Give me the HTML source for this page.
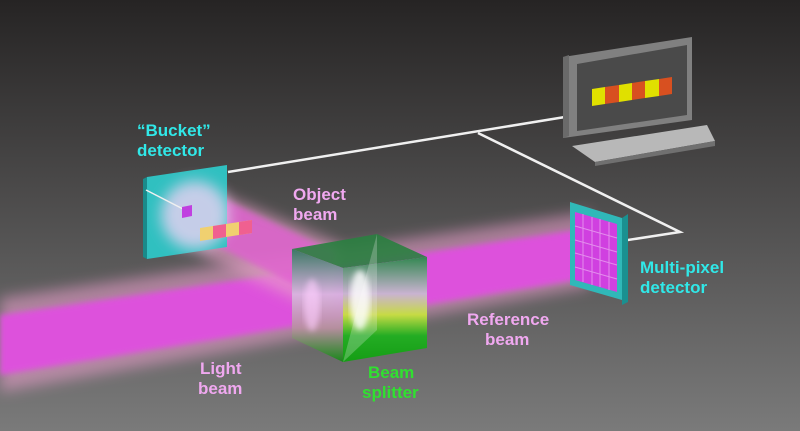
<!DOCTYPE html>
<html><head><meta charset="utf-8"><style>
html,body{margin:0;padding:0;width:800px;height:431px;overflow:hidden}
svg{display:block}
text{font-family:"Liberation Sans",sans-serif;font-weight:bold;font-size:17px}
</style></head><body>
<svg width="800" height="431" viewBox="0 0 800 431" xmlns="http://www.w3.org/2000/svg">
<defs>
<linearGradient id="bg" x1="0" y1="0" x2="0" y2="1">
<stop offset="0" stop-color="#262424"/><stop offset="1" stop-color="#7a7a7a"/></linearGradient>
<filter id="b6" x="-20%" y="-50%" width="140%" height="200%"><feGaussianBlur stdDeviation="7"/></filter>
<filter id="b3"><feGaussianBlur stdDeviation="3"/></filter>
<linearGradient id="cr" x1="0" y1="0" x2="0" y2="1">
<stop offset="0" stop-color="#2a8a4a"/><stop offset="0.35" stop-color="#c8b8d0"/><stop offset="0.55" stop-color="#c8e040"/><stop offset="0.75" stop-color="#20b020"/><stop offset="1" stop-color="#10a010"/></linearGradient>
<linearGradient id="cf" x1="0" y1="0" x2="0" y2="1">
<stop offset="0" stop-color="#2a7a5a"/><stop offset="0.4" stop-color="#d8b8e0"/><stop offset="0.7" stop-color="#b890a0"/><stop offset="1" stop-color="#108a10"/></linearGradient>
</defs>
<rect width="800" height="431" fill="url(#bg)"/>
<!-- wires -->
<polyline points="228,172 565,117" fill="none" stroke="#f0f0f0" stroke-width="2.5"/>
<polyline points="478,133 680,232 615,242" fill="none" stroke="#f0f0f0" stroke-width="2.5"/>
<!-- monitor -->
<polygon points="563,57 692,37 692,120 563,138" fill="#808080"/>
<polygon points="563,57 569,55 569,136 563,138" fill="#6a6a6a"/>
<polygon points="577,64 687,45 687,115 577,131" fill="#4a4a4a"/>
<polygon points="592,89 605,87 605,104 592,106" fill="#e0e000"/>
<polygon points="605,87 619,85 619,102 605,104" fill="#d85020"/>
<polygon points="619,85 632,83 632,100 619,102" fill="#e0e000"/>
<polygon points="632,83 645,81 645,98 632,100" fill="#d85020"/>
<polygon points="645,81 659,79 659,96 645,98" fill="#e0e000"/>
<polygon points="659,79 672,77 672,94 659,96" fill="#d85020"/>
<polygon points="572,146 707,125 715,141 595,162" fill="#b8b8b8"/>
<polygon points="595,162 715,141 715,146 595,166" fill="#707070"/>
<!-- main beam -->
<polygon points="0,298 590,212 590,287 0,392" fill="#f0a0d0" opacity="0.55" filter="url(#b6)"/>
<polygon points="0,315 590,228 590,278 0,375" fill="#e050e0" opacity="0.95" filter="url(#b3)"/>
<!-- object beam -->
<polygon points="200,185 340,245 330,315 200,255" fill="#e8a0c8" opacity="0.65" filter="url(#b6)"/>
<polygon points="215,195 335,252 325,300 215,245" fill="#e060d0" opacity="0.8" filter="url(#b3)"/>
<!-- bucket detector -->
<polygon points="143,179 147,177 147,259 143,257" fill="#1a8a8a"/>
<polygon points="147,177 227,165 227,247 147,259" fill="#30c0c0"/>
<ellipse cx="195" cy="215" rx="34" ry="34" fill="#e0d0f0" opacity="0.85" filter="url(#b6)"/>
<line x1="146" y1="190" x2="185" y2="210" stroke="#f0f0f0" stroke-width="1.5"/>
<polygon points="182,207 192,205 192,216 182,218" fill="#c040e0"/>
<polygon points="200,228 252,220 252,233 200,241" fill="#f0d070"/>
<polygon points="213,226 226,224 226,237 213,239" fill="#f06090"/>
<polygon points="239,222 252,220 252,233 239,235" fill="#f06090"/>
<!-- cube -->
<polygon points="292,249 377,234 427,257 343,268" fill="#2a8040" opacity="0.9"/>
<polygon points="292,249 343,268 343,362 292,338" fill="url(#cf)" opacity="0.9"/>
<polygon points="343,268 427,257 427,348 343,362" fill="url(#cr)" opacity="0.95"/>
<polygon points="343,362 377,234 377,330" fill="#f0f0f0" opacity="0.25"/>
<ellipse cx="360" cy="300" rx="10" ry="30" fill="#ffffff" opacity="0.8" filter="url(#b3)"/>
<ellipse cx="312" cy="305" rx="8" ry="26" fill="#ffd0ff" opacity="0.6" filter="url(#b3)"/>
<!-- multi pixel detector -->
<polygon points="570,202 622,218 622,300 570,285" fill="#30b8b8"/>
<polygon points="622,218 628,214 628,302 622,305" fill="#1a9090"/>
<polygon points="575,212 617,224 617,292 575,280" fill="#d040e0"/>
<g stroke="#e8a0f0" stroke-width="1" opacity="0.8">
<line x1="583" y1="214" x2="583" y2="282"/><line x1="592" y1="217" x2="592" y2="285"/><line x1="600" y1="219" x2="600" y2="287"/><line x1="609" y1="222" x2="609" y2="290"/>
<line x1="575" y1="226" x2="617" y2="238"/><line x1="575" y1="240" x2="617" y2="252"/><line x1="575" y1="253" x2="617" y2="265"/><line x1="575" y1="267" x2="617" y2="279"/>
</g>
<!-- labels -->
<g fill="#30e8e8"><text x="137" y="136">“Bucket”</text><text x="137" y="156">detector</text>
<text x="640" y="273">Multi-pixel</text><text x="640" y="293">detector</text></g>
<g fill="#f0a8f0"><text x="293" y="200">Object</text><text x="293" y="220">beam</text>
<text x="467" y="325">Reference</text><text x="485" y="345">beam</text>
<text x="200" y="374">Light</text><text x="198" y="394">beam</text></g>
<g fill="#30e030"><text x="368" y="378">Beam</text><text x="362" y="398">splitter</text></g>
</svg>
</body></html>
